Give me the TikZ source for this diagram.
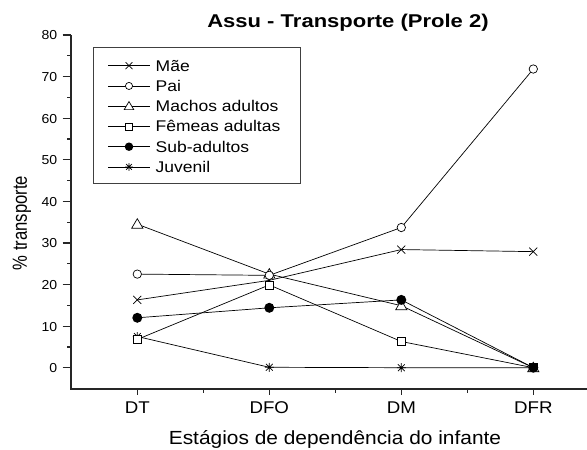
\documentclass[tikz,border=0pt]{standalone}
\usepackage{fontspec}
\setmainfont{Liberation Sans}
\usepackage{graphicx}
\newcommand\hs[2]{\scalebox{#1}[1]{#2}}
\tikzset{
  axisline/.style={line width=1.2pt,black!85},
  dline/.style={line width=0.7pt,black},
  mk/.style={line width=0.7pt,black},
  mcross/.pic={\draw[mk] (-4,-4)--(4,4) (-4,4)--(4,-4);},
  mcirc/.pic={\draw[mk,fill=white] (0,0) circle (4.2pt);},
  mtri/.pic={\draw[mk,fill=white] (0,-5.5)--(5.6,4)--(-5.6,4)--cycle;},
  msq/.pic={\draw[mk,fill=white] (-4,-4) rectangle (4,4);},
  mdot/.pic={\fill[black] (0,0) circle (5pt);},
  mstar/.pic={\draw[mk] (0,-4.5)--(0,4.5) (-4.5,0)--(4.5,0) (-3.4,-3.4)--(3.4,3.4) (-3.4,3.4)--(3.4,-3.4);},
  ticklab/.style={font=\fontsize{13}{15}\selectfont,inner sep=0pt},
  leglab/.style={font=\fontsize{15.5}{17}\selectfont,inner sep=0pt,anchor=base west},
}
\begin{document}
\begin{tikzpicture}[x=1pt,y={(0pt,-1pt)},declare function={Y(\v)=367.7-4.16*\v;}]
\useasboundingbox[fill=white] (0,0) rectangle (587,450);
% title
\node[anchor=base,font=\fontsize{18.5}{20}\selectfont\bfseries,inner sep=0pt] (title) at (348,27) {\hs{1.19}{Assu - Transporte (Prole 2)}};
% axes
\draw[axisline] (71,35) -- (71,389) -- (587,389);
\foreach \v in {0,10,...,80} {
  \draw[axisline] (62.5,{Y(\v)}) -- (71,{Y(\v)});
  \node[ticklab,anchor=east] (yl\v) at (57.5,{Y(\v)+0.6}) {\hs{1.08}{\v}};
}
\foreach \v in {5,15,...,75} \draw[axisline] (67,{Y(\v)}) -- (71,{Y(\v)});
\foreach \x/\l in {137.3/DT,269.3/DFO,401.3/DM,533.3/DFR} {
  \draw[axisline] (\x,389) -- (\x,395);
  \node[anchor=base,font=\fontsize{17}{19}\selectfont,inner sep=0pt] (xl\l) at (\x,413.5) {\hs{1.1}{\l}};
}
\foreach \x in {203.3,335.3,467.3} \draw[axisline] (\x,389) -- (\x,393);
\node[anchor=base,font=\fontsize{19}{21}\selectfont,inner sep=0pt] (xtitle) at (335,444.5) {\hs{1.1}{Estágios de dependência do infante}};
\node[rotate=90,font=\fontsize{17}{19}\selectfont,inner sep=0pt] (ytitle) at (22,223) {\scalebox{0.98}[1.2]{\% transporte}};
% data coordinates
\foreach \n/\a/\b/\c/\d in {m/16.3/21.0/28.4/27.9, p/22.5/22.2/33.7/71.8, a/34.5/22.5/14.9/0, f/6.8/19.9/6.3/0, s/12.0/14.4/16.3/0, j/7.5/0.1/0/0} {
  \coordinate (\n1) at (137.3,{Y(\a)});
  \coordinate (\n2) at (269.3,{Y(\b)});
  \coordinate (\n3) at (401.3,{Y(\c)});
  \coordinate (\n4) at (533.3,{Y(\d)});
}
\foreach \n in {m,p,a,f,s,j} \draw[dline] (\n1) -- (\n2) -- (\n3) -- (\n4);
\foreach \i in {1,...,4} {
  \pic at (j\i) {mstar};
  \pic at (m\i) {mcross};
  \pic at (f\i) {msq};
  \pic at (a\i) {mtri};
  \pic at (p\i) {mcirc};
  \pic at (s\i) {mdot};
}
% legend
\node[draw=black!75,line width=0.9pt,anchor=north west,minimum width=207.3pt,minimum height=135.4pt,inner sep=0pt] (legend) at (92.7,47.3) {};
\foreach \k/\mkr/\txt in {0/mcross/Mãe,1/mcirc/Pai,2/mtri/Machos adultos,3/msq/Fêmeas adultas,4/mdot/Sub-adultos,5/mstar/Juvenil} {
  \coordinate (la\k) at (108.3,{65.7+20.25*\k});
  \coordinate (lb\k) at (150,{65.7+20.25*\k});
  \draw[dline] (la\k) -- (lb\k);
  \pic[scale=0.85] at (129,{65.7+20.25*\k}) {\mkr};
  \node[leglab] (lt\k) at (155.5,{65.7+20.25*\k+5.5}) {\hs{1.13}{\txt}};
}
\end{tikzpicture}
\end{document}
